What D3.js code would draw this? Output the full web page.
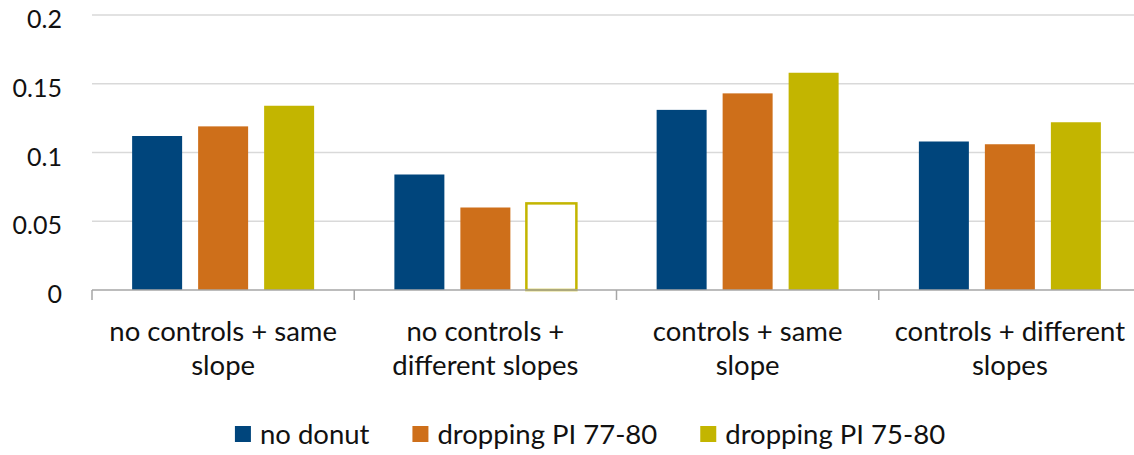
<!DOCTYPE html>
<html>
<head>
<meta charset="utf-8">
<script src="https://cdn.jsdelivr.net/npm/d3@7"></script>
<style>
  html, body { margin: 0; padding: 0; background: #fff; }
  svg { display: block; font-family: Lato, "Open Sans", sans-serif; }
</style>
</head>
<body>
<svg id="chart" width="1134" height="455"></svg>
<script>
// Model specifications (x axis groups)
const categories = [
  "no controls + same slope",
  "no controls + different slopes",
  "controls + same slope",
  "controls + different slopes"
];

// Estimation samples (legend series)
const seriesNames = ["no donut", "dropping PI 77-80", "dropping PI 75-80"];

// Estimates per series, one value per category
const noDonut      = [0.112, 0.084, 0.131, 0.108];
const dropping7780 = [0.119, 0.060, 0.143, 0.106];
const dropping7580 = [0.134, 0.063, 0.158, 0.122];

// Y axis tick values
const yTicks = [0, 0.05, 0.1, 0.15, 0.2];

const seriesValues = [noDonut, dropping7780, dropping7580];
const colors = ["#00457C", "#CE6F1A", "#C3B500"];

// Bars drawn as an outline only (category index, series index)
const outlined = [[1, 2]];

const svg = d3.select("#chart");
const W = 1134, H = 455;
const plot = { left: 92, right: 1141, top: 15, bottom: 290 };

const x0 = d3.scaleBand()
  .domain(categories)
  .range([plot.left, plot.right])
  .padding(0);

const x1 = d3.scaleBand()
  .domain(seriesNames)
  .range([0, x0.bandwidth()])
  .paddingInner(16 / 66)
  .paddingOuter(0.608);

const y = d3.scaleLinear()
  .domain([0, 0.2])
  .range([plot.bottom, plot.top]);

// Horizontal gridlines
svg.append("g")
  .selectAll("line")
  .data(yTicks.filter(t => t > 0))
  .join("line")
  .attr("x1", plot.left)
  .attr("x2", W)
  .attr("y1", d => y(d))
  .attr("y2", d => y(d))
  .attr("stroke", "#D9D9D9")
  .attr("stroke-width", 1.3);

// Y axis labels
const yAxis = d3.axisLeft(y)
  .tickValues(yTicks)
  .tickFormat(d => d3.format("")(+d.toFixed(2)))
  .tickSize(0)
  .tickPadding(30);

svg.append("g")
  .attr("transform", `translate(${plot.left},0)`)
  .call(yAxis)
  .call(g => g.select(".domain").remove())
  .call(g => g.selectAll("text")
    .attr("font-size", 25)
    .attr("font-family", "Lato, sans-serif")
    .attr("fill", "#111")
    .attr("dy", "0.5em"));

// Bars
const rows = categories.map((c, ci) => ({
  category: c,
  values: seriesNames.map((s, si) => ({
    series: s,
    si,
    ci,
    value: seriesValues[si][ci],
    hollow: outlined.some(([a, b]) => a === ci && b === si)
  }))
}));

const groups = svg.append("g")
  .selectAll("g")
  .data(rows)
  .join("g")
  .attr("transform", d => `translate(${x0(d.category)},0)`);

groups.selectAll("rect")
  .data(d => d.values)
  .join("rect")
  .attr("x", d => x1(d.series))
  .attr("y", d => y(d.value))
  .attr("width", x1.bandwidth())
  .attr("height", d => y(0) - y(d.value))
  .attr("fill", d => d.hollow ? "#fff" : colors[d.si])
  .attr("stroke", d => d.hollow ? colors[d.si] : "none")
  .attr("stroke-width", d => d.hollow ? 2.5 : 0);

// X axis baseline with category boundary ticks
const xAxis = d3.axisBottom(x0).tickSize(0).tickFormat("");
svg.append("g")
  .attr("transform", `translate(0,${plot.bottom})`)
  .call(xAxis)
  .call(g => g.select(".domain").remove())
  .call(g => g.append("line")
    .attr("x1", plot.left).attr("x2", W)
    .attr("stroke", "#A6A6A6").attr("stroke-width", 1.5))
  .call(g => g.selectAll(".bound")
    .data(categories.concat([null]))
    .join("line")
    .attr("class", "bound")
    .attr("x1", (d, i) => plot.left + i * x0.step())
    .attr("x2", (d, i) => plot.left + i * x0.step())
    .attr("y1", 0).attr("y2", 10)
    .attr("stroke", "#A6A6A6").attr("stroke-width", 1.5));

// Category labels, wrapped to the band width
const labelSize = 27.5;
const labels = svg.append("g")
  .selectAll("text")
  .data(categories)
  .join("text")
  .attr("text-anchor", "middle")
  .attr("font-size", labelSize)
  .attr("fill", "#111")
  .attr("x", d => x0(d) + x0.bandwidth() / 2)
  .attr("y", 341);

labels.each(function (d) {
  const t = d3.select(this);
  const words = d.split(" ");
  const maxW = x0.bandwidth() - 18;
  let line = [];
  let tspan = t.append("tspan").attr("x", t.attr("x")).attr("dy", 0);
  for (const w of words) {
    line.push(w);
    tspan.text(line.join(" "));
    if (tspan.node().getComputedTextLength() > maxW && line.length > 1) {
      line.pop();
      tspan.text(line.join(" "));
      line = [w];
      tspan = t.append("tspan").attr("x", t.attr("x")).attr("dy", 34).text(w);
    }
  }
});

// Legend
const legend = svg.append("g");
const items = legend.selectAll("g")
  .data(seriesNames)
  .join("g");

items.append("rect")
  .attr("width", 16).attr("height", 16)
  .attr("y", 426)
  .attr("fill", (d, i) => colors[i]);

items.append("text")
  .attr("x", 25)
  .attr("y", 444)
  .attr("font-size", labelSize)
  .attr("fill", "#111")
  .text(d => d);

let cursor = 0;
const offsets = [];
items.each(function () {
  offsets.push(cursor);
  const w = d3.select(this).select("text").node().getComputedTextLength();
  cursor += 25 + w + 43;
});
const totalW = cursor - 43;
const legendStart = 590 - totalW / 2;
items.attr("transform", (d, i) => `translate(${legendStart + offsets[i]},0)`);
</script>
</body>
</html>
